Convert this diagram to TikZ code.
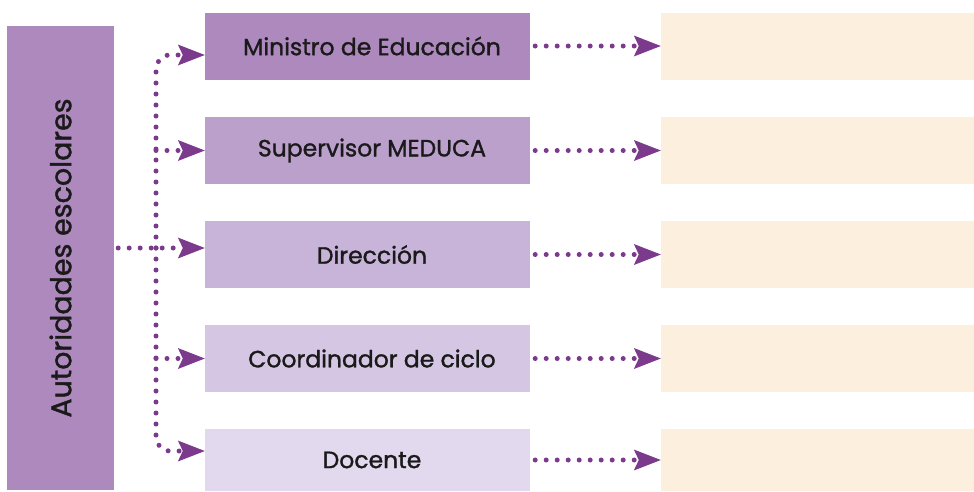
\documentclass[tikz,border=0pt]{standalone}
\usepackage{fontspec}
\setmainfont{Poppins}[UprightFeatures={FakeBold=1.3}]
\usepackage{xcolor}
\usetikzlibrary{arrows.meta,positioning}

\definecolor{lilaA}{HTML}{AD89BE}
\definecolor{lilaB}{HTML}{BBA0CC}
\definecolor{lilaC}{HTML}{C8B3D9}
\definecolor{lilaD}{HTML}{D5C6E3}
\definecolor{lilaE}{HTML}{E3D9EE}
\definecolor{crema}{HTML}{FDEFDD}
\definecolor{flecha}{HTML}{7B3A8C}
\definecolor{texto}{HTML}{1A1A1A}

\begin{document}
\begin{tikzpicture}[x=1pt, y=-1pt,
    cargo/.style={inner sep=0pt, minimum width=325pt, minimum height=67pt,
        text=texto, font=\fontsize{23.5}{28}\selectfont,
        execute at begin node=\hspace*{9pt}},
    resp/.style={fill=crema, inner sep=0pt, minimum width=313pt, minimum height=67pt},
    punteada/.style={draw=flecha, line width=5pt, line cap=round,
        dash pattern=on 0pt off 11pt,
        -{Stealth[length=27pt, width=21pt, inset=5pt, line width=0pt]}}
]
\useasboundingbox (0,0) rectangle (974,491);

\node[fill=lilaA, inner sep=0pt, minimum width=107pt, minimum height=464pt,
    text=texto, font=\fontsize{28.5}{33}\selectfont] (na) at (60.5, 258)
    {\rotatebox{90}{Autoridades escolares}};

\node[cargo, fill=lilaA] (n1) at (367.5, 46) {Ministro de Educación};
\node[cargo, fill=lilaB] (n2) at (367.5, 150.5) {Supervisor MEDUCA};
\node[cargo, fill=lilaC] (n3) at (367.5, 254.5) {Dirección};
\node[cargo, fill=lilaD] (n4) at (367.5, 358.5) {Coordinador de ciclo};
\node[cargo, fill=lilaE, minimum height=62pt] (n5) at (367.5, 460) {Docente};

\node[resp] (r1) at (817.5, 46) {};
\node[resp] (r2) at (817.5, 150.5) {};
\node[resp] (r3) at (817.5, 254.5) {};
\node[resp] (r4) at (817.5, 358.5) {};
\node[resp, minimum height=62pt] (r5) at (817.5, 460) {};

\coordinate (hub) at (156, 248);

% del recuadro lateral a cada cargo
\draw[punteada] ([xshift=4pt]na.east |- hub) -- (n3.west |- hub);
\draw[punteada, rounded corners=14pt] (hub) |- ([yshift=-9pt]n1.west);
\draw[punteada, rounded corners=14pt] (hub) |- ([yshift=9pt]n5.west);
\draw[punteada] (hub |- n2.west) -- (n2.west);
\draw[punteada] (hub |- n4.west) -- (n4.west);

% de cada cargo a su recuadro
\draw[punteada, shorten <=5pt] (n1.east) -- (r1.west);
\draw[punteada, shorten <=5pt] (n2.east) -- (r2.west);
\draw[punteada, shorten <=5pt] (n3.east) -- (r3.west);
\draw[punteada, shorten <=5pt] (n4.east) -- (r4.west);
\draw[punteada, shorten <=5pt] (n5.east) -- (r5.west);
\end{tikzpicture}
\end{document}
